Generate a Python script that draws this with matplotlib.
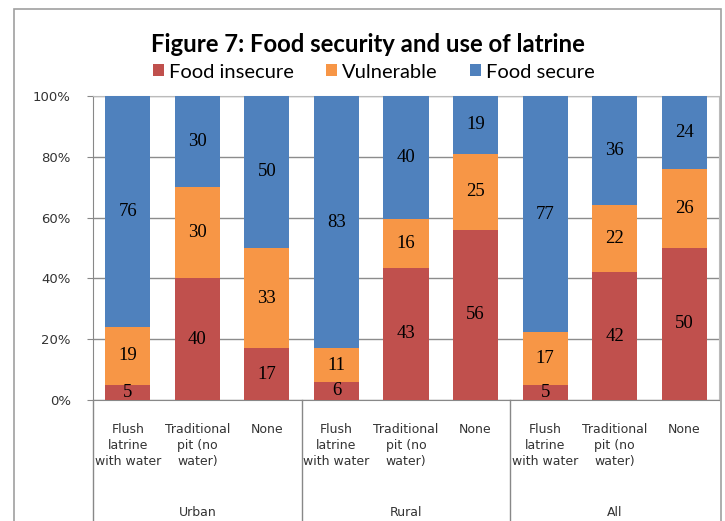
import numpy as np
import matplotlib.pyplot as plt
from matplotlib.lines import Line2D
from matplotlib.patches import Rectangle

# survey shares (%) by place of residence and latrine type
groups = ["Urban", "Rural", "All"]
latrines = ["Flush\nlatrine\nwith water", "Traditional\npit (no\nwater)", "None"]
food_insecure = [5, 40, 17, 6, 43, 56, 5, 42, 50]
vulnerable = [19, 30, 33, 11, 16, 25, 17, 22, 26]
food_secure = [76, 30, 50, 83, 40, 19, 77, 36, 24]

series = [("Food insecure", food_insecure, "#C0504D"),
          ("Vulnerable", vulnerable, "#F79646"),
          ("Food secure", food_secure, "#4F81BD")]

W, H = 725, 521
top, bot = 96, 400
fig = plt.figure(figsize=(W / 100, H / 100), dpi=100)
ax = fig.add_axes([93 / W, 1 - bot / H, (719 - 93) / W, (bot - top) / H])

# chart frame
fig.patches.append(Rectangle((14 / W, -0.1), (721 - 14) / W, 1.1 - 9 / H,
                             transform=fig.transFigure, fill=False,
                             edgecolor="#A0A0A0", lw=1.2))

x = np.arange(len(food_insecure))
totals = np.sum([s[1] for s in series], axis=0)
bottom = np.zeros(len(x))
for name, vals, color in series:
    share = np.array(vals) / totals
    ax.bar(x, share, 0.65, bottom=bottom, color=color, label=name, zorder=3)
    for xi, b, s, v in zip(x, bottom, share, vals):
        ax.text(xi, b + s / 2, str(v), ha="center", va="center",
                fontsize=13.5, family="Liberation Serif", color="black", zorder=4)
    bottom += share

ax.set_xlim(-0.5, len(x) - 0.5)
ax.set_ylim(0, 1)
yt = np.arange(0, 1.01, 0.2)
ax.set_yticks(yt)
ax.set_yticklabels([f"{int(round(t * 100))}%" for t in yt],
                   fontsize=9.5, family="DejaVu Sans", color="#333333")
ax.tick_params(axis="y", length=4, color="#888888", pad=12)
ax.set_xticks([])
ax.yaxis.grid(True, color="#8C8C8C", lw=1, zorder=0)
for sp in ["top", "right"]:
    ax.spines[sp].set_color("#BBBBBB")
for sp in ["left", "bottom"]:
    ax.spines[sp].set_color("#888888")

# category and group labels below the axis (axes y coordinates)
to_ax = lambda py: (bot - py) / (bot - top)
xt = ax.get_xaxis_transform()
for i in range(len(x)):
    ax.text(i, to_ax(423), latrines[i % 3], transform=xt,
            ha="center", va="top", fontsize=9, family="DejaVu Sans",
            color="#333333", linespacing=1.3)
for g, name in enumerate(groups):
    ax.text(g * 3 + 1, to_ax(512), name, transform=xt,
            ha="center", va="center", fontsize=9, family="DejaVu Sans",
            color="#333333")
for xb in [-0.5, 2.5, 5.5]:
    ax.add_line(Line2D([xb, xb], [0, -0.5], transform=xt,
                       color="#888888", lw=1, clip_on=False))

fig.text(368 / W, 1 - 44 / H, "Figure 7: Food security and use of latrine",
         ha="center", va="center", fontsize=17.2, fontweight="bold", family="Lato")
fig.legend(loc="center", bbox_to_anchor=(374 / W, 1 - 72 / H), ncol=3,
           frameon=False, prop={"family": "Lato", "size": 14.5},
           handlelength=0.55, handleheight=0.55, handletextpad=0.25, columnspacing=1.6,
           borderaxespad=0)

fig.savefig("out.png", dpi=100)
